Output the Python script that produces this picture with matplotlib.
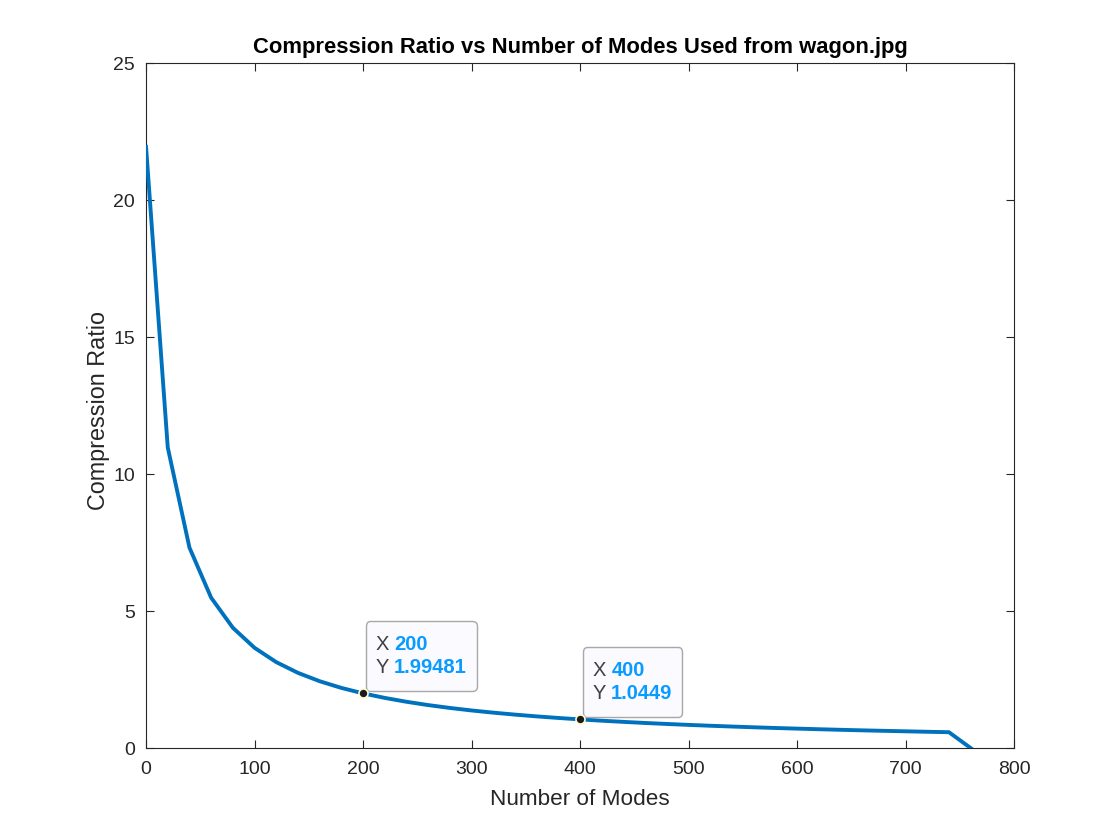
import matplotlib
matplotlib.use('Agg')
import matplotlib.pyplot as plt
from matplotlib.offsetbox import TextArea, HPacker, VPacker, AnnotationBbox, DrawingArea

plt.rcParams['font.family'] = ['Liberation Sans', 'DejaVu Sans']

# number of modes used and the compression ratio
modes = [0, 20, 40, 60, 80, 100, 120, 140, 160, 180, 200, 220, 240, 260, 280,
         300, 320, 340, 360, 380, 400, 420, 440, 460, 480, 500, 520, 540, 560,
         580, 600, 620, 640, 660, 680, 700, 720, 740, 760]
ratio = [21.94, 10.97, 7.314, 5.486, 4.389, 3.657, 3.135, 2.743, 2.438, 2.194,
         1.99481, 1.829, 1.688, 1.567, 1.463, 1.371, 1.291, 1.219, 1.155, 1.097,
         1.0449, 0.997, 0.954, 0.914, 0.878, 0.844, 0.813, 0.784, 0.757, 0.731,
         0.708, 0.686, 0.665, 0.645, 0.627, 0.610, 0.593, 0.577, 0.0]

tip_x = [200, 400]
tip_y = [1.99481, 1.0449]
tip_labels = [('200', '1.99481'), ('400', '1.0449')]

fig = plt.figure(figsize=(11.2, 8.4), dpi=100)
ax = fig.add_axes([0.1304, 0.1095, 0.775, 0.8155])

ax.plot(modes, ratio, color='#0072BD', lw=2.8, solid_joinstyle='miter', zorder=3)

ax.set_xlim(0, 800)
ax.set_ylim(0, 25)
ax.set_xticks(range(0, 801, 100))
ax.set_yticks(range(0, 26, 5))
ax.tick_params(direction='in', top=True, right=True, labelsize=14,
               length=6, width=0.8, colors='#262626')
ax.tick_params(axis='x', pad=9)
ax.tick_params(axis='y', pad=8)
for s in ax.spines.values():
    s.set_color('#262626')
    s.set_linewidth(0.8)

ax.set_xlabel('Number of Modes', fontsize=16.2, color='#262626', labelpad=8)
ax.set_ylabel('Compression Ratio', fontsize=16.8, color='#262626', labelpad=2)
ax.yaxis.label.set_y(0.492)
ax.set_title('Compression Ratio vs Number of Modes Used from wagon.jpg',
             fontsize=15.8, fontweight='bold', pad=7)

# data tips
for x, y, (xs, ys) in zip(tip_x, tip_y, tip_labels):
    rows = [DrawingArea(1, 0.3)]
    for key, val in (('X', xs), ('Y', ys)):
        rows.append(HPacker(children=[
            TextArea(key + ' ', textprops=dict(color='#404040', fontsize=14.5)),
            TextArea(val, textprops=dict(color='#0a9bff', fontsize=14.5, fontweight='bold'))],
            align='baseline', pad=0, sep=0))
    rows.append(DrawingArea(1, 0.01))
    box = VPacker(children=rows, align='left', pad=7, sep=2.7)
    ab = AnnotationBbox(box, (x, y), xybox=(2, 2), boxcoords='offset points',
                        box_alignment=(0, 0), frameon=True,
                        bboxprops=dict(boxstyle='round,pad=0,rounding_size=0.3',
                                       fc='#fafaff', ec='#a8a8a8', lw=1.0))
    ab.set_zorder(4)
    ax.add_artist(ab)
    ax.plot(x, y, 'o', ms=6.5, mfc='#1a1a1a', mec='#fffbd0', mew=1.2, zorder=5)

fig.savefig('out.png', dpi=100)
